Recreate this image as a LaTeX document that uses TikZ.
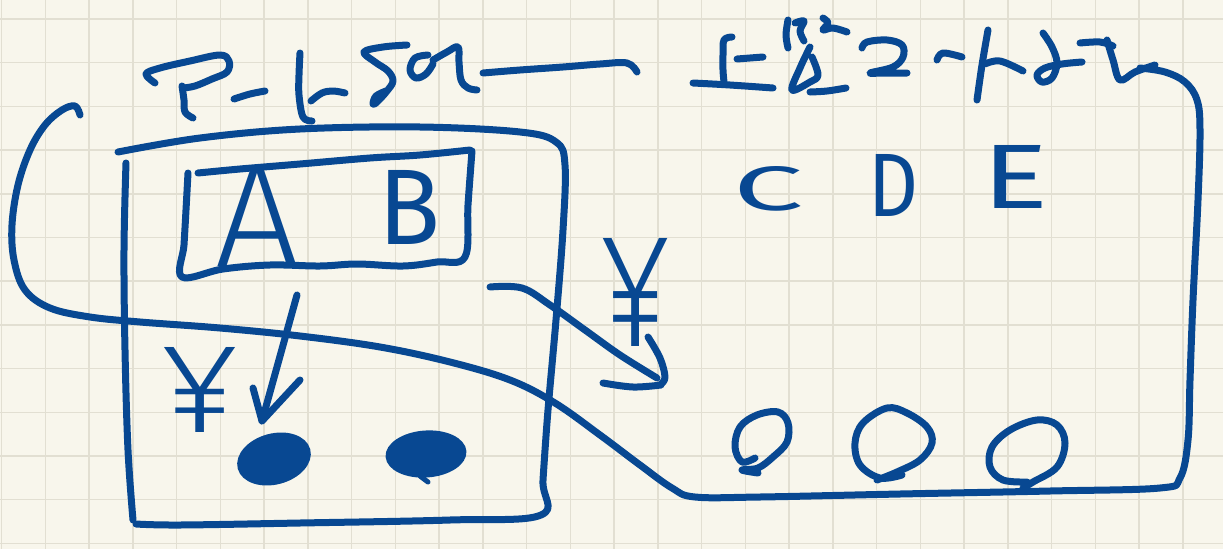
\documentclass[tikz,border=0pt]{standalone}
\usepackage{fontspec}
\newfontfamily\handlight{Fira Sans Light}
\newfontfamily\handreg{Fira Sans}
\usetikzlibrary{calc,shapes.geometric}

\definecolor{paper}{RGB}{248,246,236}
\definecolor{gridline}{RGB}{226,223,210}
\definecolor{ink}{RGB}{8,72,146}

\tikzset{
  pen/.style={draw=ink, line width=7pt, line cap=round, line join=round},
  stroke/.style={pen, smooth, tension=0.6},
  glyph/.style={text=ink, inner sep=0pt, outer sep=0pt},
  blob/.style={ellipse, fill=ink, draw=ink, line width=3pt, inner sep=0pt},
  rule/.style={draw=gridline, line width=1.5pt},
}
% letter scaled to a given width and height (in pt), light or regular weight
\newcommand\inkglyph[3]{\resizebox{#1pt}{#2pt}{\handlight #3}}
\newcommand\inkglyphb[3]{\resizebox{#1pt}{#2pt}{\handreg #3}}

\begin{document}
\begin{tikzpicture}[x=1pt,y=-1pt]
  \useasboundingbox (0,0) rectangle (1223,549);
  \fill[paper] (0,0) rectangle (1223,549);
  % squared paper
  \foreach \i in {0,...,27} \draw[rule] ({1.5+43.75*\i},0) -- ({1.5+43.75*\i},549);
  \foreach \j in {0,...,12} \draw[rule] (0,{19+43.7*\j}) -- (1223,{19+43.7*\j});

  % ---- heading on the left, with its run-out line
  \draw[stroke] plot coordinates {(155,83) (146,74) (160,68) (190,61) (220,55) (229,61) (227,72) (212,79) (195,86) (183,88)};
  \draw[stroke] plot coordinates {(182,86) (184,100) (185,112) (193,118)};
  \draw[stroke] plot coordinates {(234,99) (250,94) (265,91)};
  \draw[stroke] plot coordinates {(300,53) (299,75) (299,95) (303,117) (312,121)};
  \draw[stroke] plot coordinates {(311,101) (322,93) (333,91) (345,93)};
  \draw[stroke] plot coordinates {(407,45) (383,47) (364,52) (375,62) (388,71) (393,81) (387,91) (377,102) (373,104) (376,96) (386,91)};
  \draw[stroke] plot coordinates {(428,55) (415,58) (410,70) (416,78) (426,74) (433,64)};
  \draw[stroke] plot coordinates {(433,60) (447,52) (458,47) (459,62) (461,80) (468,88) (477,90)};
  \draw[stroke] plot coordinates {(483,73) (520,70) (563,67) (600,64) (627,63) (637,72)};

  % ---- heading on the right
  \draw[stroke] plot coordinates {(732,37) (724,40) (723,55) (723,70) (724,82)};
  \draw[stroke] plot coordinates {(737,59) (763,57)};
  \draw[stroke] plot coordinates {(693,83) (730,85) (773,88)};
  \draw[stroke] plot coordinates {(788,20) (786,35) (788,48)};
  \draw[stroke] plot coordinates {(795,23) (804,21) (800,31) (804,41)};
  \draw[stroke] plot coordinates {(823,18) (828,23) (823,30) (833,28) (847,32)};
  \draw[stroke] plot coordinates {(810,47) (800,68) (792,90) (810,82) (818,75) (812,57)};
  \draw[stroke] plot coordinates {(810,92) (827,91) (846,88)};
  \draw[stroke] plot coordinates {(862,48) (867,42) (887,40) (902,45) (903,57) (893,67) (870,73) (883,73) (907,73)};
  \draw[stroke] plot coordinates {(937,60) (943,53) (962,57)};
  \draw[stroke] plot coordinates {(988,30) (982,65) (977,100)};
  \draw[stroke] plot coordinates {(985,64) (1000,61) (1023,71)};
  \draw[stroke] plot coordinates {(1043,33) (1052,47) (1057,63) (1052,78) (1042,82) (1037,75) (1045,68) (1062,64) (1082,62)};
  \draw[stroke] plot coordinates {(1080,43) (1100,42) (1113,46)};
  \draw[stroke] plot coordinates {(1107,40) (1113,60) (1120,80) (1135,72) (1155,65)};

  % ---- outer box
  \draw[stroke] plot coordinates {(118,152) (200,138) (300,129) (420,127) (520,132) (556,142) (565,165) (563,230) (556,320) (548,410) (543,480) (541,515) (450,520) (300,523) (180,525) (136,524)};
  \draw[stroke] plot coordinates {(126,163) (124,250) (125,350) (128,450) (133,520)};

  % ---- inner box holding A and B
  \draw[stroke] plot coordinates {(188,173) (186,210) (184,245) (182,277) (223,269) (270,265) (320,266) (357,264) (403,266) (437,262) (465,257) (468,205) (472,151)};
  \draw[stroke] plot coordinates {(198,173) (240,169) (300,164) (370,158) (420,155) (470,150)};
  \node[glyph] (A) at (258,216) {\inkglyph{84}{100}{A}};
  \node[glyph] (B) at (410,207) {\inkglyphb{62}{74}{B}};

  % ---- the two filled dots
  \node[blob, minimum width=72pt, minimum height=48pt, rotate=15] (dotA) at (274,459) {};
  \node[blob, minimum width=78pt, minimum height=44pt, rotate=4] (dotB) at (426,454) {};
  \draw[pen, line width=5pt] (420,476) -- (428,482);

  % ---- arrow from the A B box down to the first dot
  \coordinate (a1s) at (297,295);
  \coordinate (a1t) at (262,421);
  \draw[pen] (a1s) -- (a1t);
  \draw[pen] ($(a1t)+(-9,-33)$) -- (a1t) -- ($(a1t)+(38,-41)$);
  \node[glyph] (yenA) at (200,390) {\inkglyph{75}{85}{¥}};

  % ---- arrow leaving the outer box towards the right group
  \coordinate (a2s) at (490,287);
  \coordinate (a2t) at (657,378);
  \draw[stroke] plot coordinates {(a2s) (522,288) (550,305) (585,330) (620,355) (a2t)};
  \draw[stroke] plot coordinates {(648,337) (660,358) (665,377) (661,384)};
  \draw[stroke] plot coordinates {(603,383) (633,387) (661,385)};
  \node[glyph] (yenB) at (636,292) {\inkglyph{68}{108}{¥}};

  % ---- right group: C D E and three open circles
  \node[glyph] (C) at (769,189) {\inkglyphb{70}{44}{C}};
  \node[glyph] (D) at (893,185) {\inkglyphb{50}{62}{D}};
  \node[glyph] (E) at (1016,177) {\inkglyphb{66}{63}{E}};
  \draw[stroke] plot coordinates {(755,458) (742,462) (735,447) (740,427) (757,415) (778,412) (788,423) (787,442) (773,457) (758,468) (742,470) (758,473)};
  \draw[stroke] plot coordinates {(902,475) (880,478) (860,465) (855,443) (863,423) (887,408) (907,413) (927,427) (932,443) (920,460) (897,472) (877,480)};
  \draw[stroke] plot coordinates {(1023,488) (1033,482) (1057,467) (1065,443) (1057,425) (1037,420) (1010,430) (992,447) (990,467) (1003,480) (1027,482)};

  % ---- large enclosing loop
  \draw[stroke] plot coordinates {(80,115) (75,106) (62,110) (45,125) (30,150) (18,185) (12,225) (14,260) (25,290) (50,308) (90,317) (140,322) (220,328) (300,336) (380,347) (450,362) (510,380) (555,403) (600,435) (640,465) (672,488) (695,497) (760,497) (900,494) (1050,491) (1160,488) (1180,478) (1188,440) (1190,380) (1193,300) (1198,200) (1200,130) (1197,100) (1185,82) (1165,72) (1140,68)};
\end{tikzpicture}
\end{document}
